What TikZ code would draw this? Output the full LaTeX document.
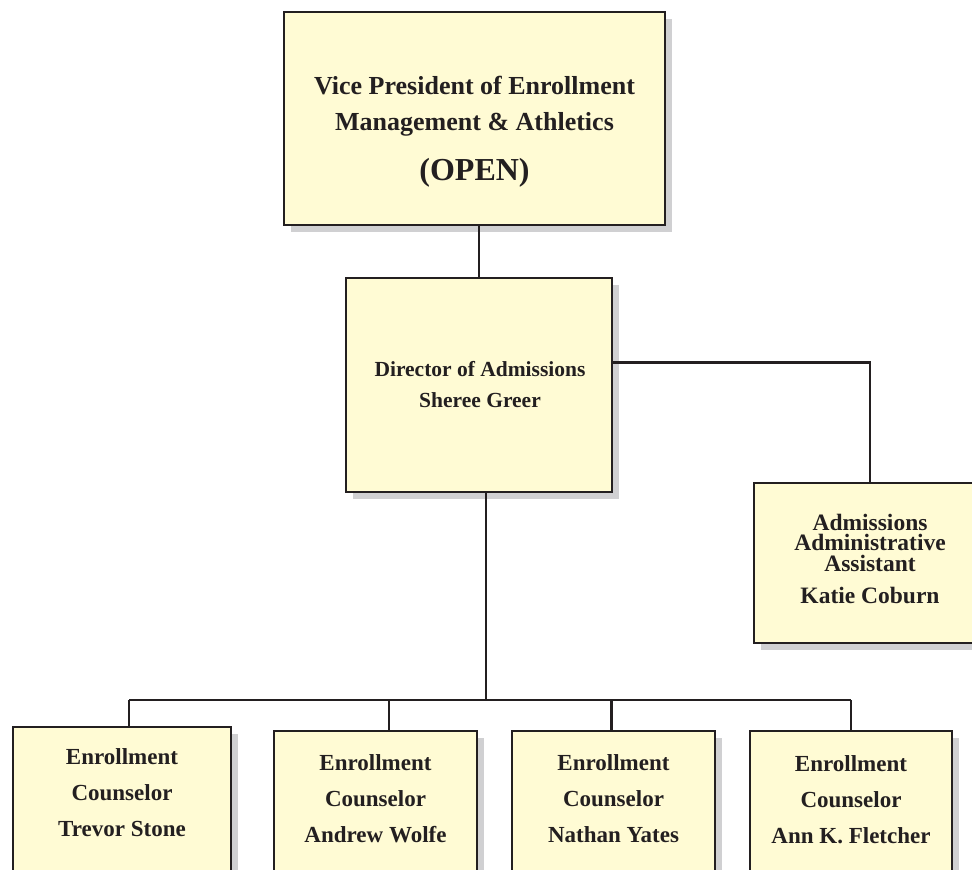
\documentclass[tikz,border=0pt]{standalone}
\usepackage{fontspec}
\setmainfont{Liberation Serif}
\usetikzlibrary{shadows}
\definecolor{boxfill}{HTML}{FFFBD4}
\definecolor{boxline}{HTML}{231F20}
\definecolor{shadowgray}{HTML}{D0D0D2}
\tikzset{
  orgbox/.style={draw=boxline, line width=2.6pt, fill=boxfill, inner sep=0pt,
    outer sep=0pt, anchor=north west,
    drop shadow={shadow xshift=6.5pt, shadow yshift=-6.5pt, fill=shadowgray, opacity=1}},
  orgtext/.style={anchor=north, align=center, inner sep=0pt, text=boxline, font=\bfseries},
  link/.style={draw=boxline, line width=2.6pt}
}
\begin{document}
\begin{tikzpicture}[x=1pt,y=-1pt]
\useasboundingbox (0,0) rectangle (972,870);
% connector points
\coordinate (dirbot) at (486,492);
\coordinate (bus) at (486,700);
\coordinate (busL) at (129,700);
\coordinate (busR) at (851,700);
\coordinate (drop2) at (389,700);
\coordinate (drop3) at (611.5,700);
\coordinate (dirR) at (612,362.5);
\coordinate (asstcorner) at (870,362.5);

% boxes
\node[orgbox, minimum width=381pt, minimum height=213pt] (vp) at (284,12) {};
\node[orgbox, minimum width=266pt, minimum height=214pt] (dir) at (346,278) {};
\node[orgbox, minimum width=232pt, minimum height=160pt] (asst) at (754,483) {};
\node[orgbox, minimum width=218pt, minimum height=160pt] (c1) at (13,727) {};
\node[orgbox, minimum width=203pt, minimum height=160pt] (c2) at (274,731) {};
\node[orgbox, minimum width=203pt, minimum height=160pt] (c3) at (512,731) {};
\node[orgbox, minimum width=202pt, minimum height=160pt] (c4) at (750,731) {};

% links
\draw[link] (dir.north |- vp.south) -- (dir.north);
\draw[link] (dirR) -- (asstcorner) -- (asst.north);
\draw[link] (dirbot) -- (bus);
\draw[link] (busL) -- (busR);
\draw[link] (busL) -- (busL |- c1.north);
\draw[link] (drop2) -- (drop2 |- c2.north);
\draw[link] (drop3) -- (drop3 |- c3.north);
\draw[link] (busR) -- (busR |- c4.north);

% texts (anchor north = first baseline minus strut height)
\node[orgtext, font=\bfseries\fontsize{26}{36}\selectfont] (vpt) at (474.5,94-22)
  {\rule{0pt}{22pt}Vice President of Enrollment\\Management \& Athletics\\[14pt]{\fontsize{32}{36}\selectfont (OPEN)}};
\node[orgtext, font=\bfseries\fontsize{21.5}{31}\selectfont] (dirt) at (480,376-20)
  {\rule{0pt}{20pt}Director of Admissions\\Sheree Greer};
\node[orgtext, font=\bfseries\fontsize{23.5}{20.5}\selectfont] (asstt) at (870,530-20)
  {\rule{0pt}{20pt}Admissions\\Administrative\\Assistant\\[11.5pt]Katie Coburn};
\node[orgtext, font=\bfseries\fontsize{23}{36}\selectfont] (c1t) at (122,764-20)
  {\rule{0pt}{20pt}Enrollment\\Counselor\\Trevor Stone};
\node[orgtext, font=\bfseries\fontsize{23}{36}\selectfont] (c2t) at (375.5,770-20)
  {\rule{0pt}{20pt}Enrollment\\Counselor\\Andrew Wolfe};
\node[orgtext, font=\bfseries\fontsize{23}{36}\selectfont] (c3t) at (613.5,770.5-20)
  {\rule{0pt}{20pt}Enrollment\\Counselor\\Nathan Yates};
\node[orgtext, font=\bfseries\fontsize{23}{36}\selectfont] (c4t) at (851,771-20)
  {\rule{0pt}{20pt}Enrollment\\Counselor\\Ann K. Fletcher};
\end{tikzpicture}
\end{document}
